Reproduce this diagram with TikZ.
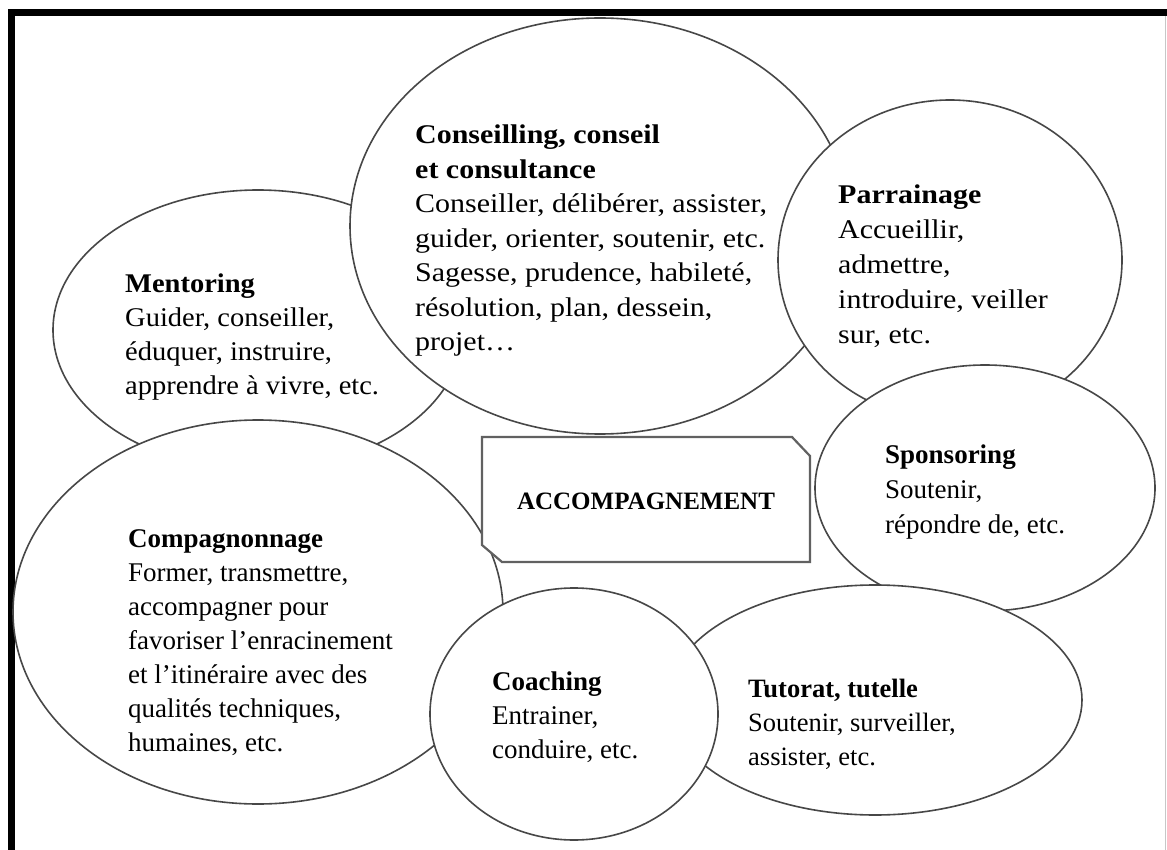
\documentclass[tikz,border=0pt]{standalone}
\usepackage{fontspec}
\setmainfont{Liberation Serif}
\newfontfamily\widefont{Liberation Serif}[FakeStretch=1.11]
\newfontfamily\halfwidefont{Liberation Serif}[FakeStretch=1.055]
\begin{document}
\begin{tikzpicture}[x=1pt,y=-1pt,
  bubble/.style={draw=black!72, fill=white, line width=1.6pt},
  tagbox/.style={draw=black!62, fill=white, line width=2.2pt, line join=miter},
  blurb/.style={anchor=north west, align=left, inner sep=0pt,
    font=\fontsize{27}{34}\selectfont},
  centre/.style={inner sep=0pt, font=\fontsize{25}{30}\selectfont\bfseries}]
\useasboundingbox (0,0) rectangle (1167,850);
\fill[white] (0,0) rectangle (1167,850);

% outer frame
\fill[black] (8,9) rectangle (1167,16);
\fill[black] (8,9) rectangle (15,850);
\draw[black!22, line width=1pt] (1165.5,16) -- (1165.5,850);

% bubbles, back to front
\path[bubble] (258,330) ellipse [x radius=205pt, y radius=140pt];
\path[bubble] (600,226) ellipse [x radius=250pt, y radius=208pt];
\path[bubble] (950,260) ellipse [x radius=172pt, y radius=160pt];
\path[bubble] (985,488) ellipse [x radius=170pt, y radius=123pt];
\path[bubble] (875,700) ellipse [x radius=207pt, y radius=115pt];
\path[bubble] (258,612) ellipse [x radius=245pt, y radius=192pt];
\path[bubble] (574,714) ellipse [x radius=144pt, y radius=126pt];

% central label
\path[tagbox] (482,437) -- (792,437) -- (810,456) -- (810,562)
  -- (502,562) -- (482,545) -- cycle;
\node[centre] (accomp) at (646,501) {ACCOMPAGNEMENT};

% bubble texts
\node[blurb, font=\fontsize{27}{34.5}\selectfont\widefont] (conseil) at (415,125)
 {\textbf{Conseilling, conseil}\\
  \textbf{et consultance}\\
  Conseiller, délibérer, assister,\\
  guider, orienter, soutenir, etc.\\
  Sagesse, prudence, habileté,\\
  résolution, plan, dessein,\\
  projet…};
\node[blurb, font=\fontsize{27}{34}\selectfont\halfwidefont] (mentor) at (125,274)
 {\textbf{Mentoring}\\
  Guider, conseiller,\\
  éduquer, instruire,\\
  apprendre à vivre, etc.};
\node[blurb, font=\fontsize{27}{35}\selectfont\widefont] (parrain) at (838,185)
 {\textbf{Parrainage}\\
  Accueillir,\\
  admettre,\\
  introduire, veiller\\
  sur, etc.};
\node[blurb, font=\fontsize{27}{35}\selectfont] (sponsor) at (885,445)
 {\textbf{Sponsoring}\\
  Soutenir,\\
  répondre de, etc.};
\node[blurb] (compagnon) at (128,529)
 {\textbf{Compagnonnage}\\
  Former, transmettre,\\
  accompagner pour\\
  favoriser l’enracinement\\
  et l’itinéraire avec des\\
  qualités techniques,\\
  humaines, etc.};
\node[blurb, font=\fontsize{27}{34}\selectfont] (coach) at (492,672)
 {\textbf{Coaching}\\
  Entrainer,\\
  conduire, etc.};
\node[blurb, font=\fontsize{26.5}{34}\selectfont] (tutorat) at (748,679)
 {\textbf{Tutorat, tutelle}\\
  Soutenir, surveiller,\\
  assister, etc.};
\end{tikzpicture}
\end{document}
